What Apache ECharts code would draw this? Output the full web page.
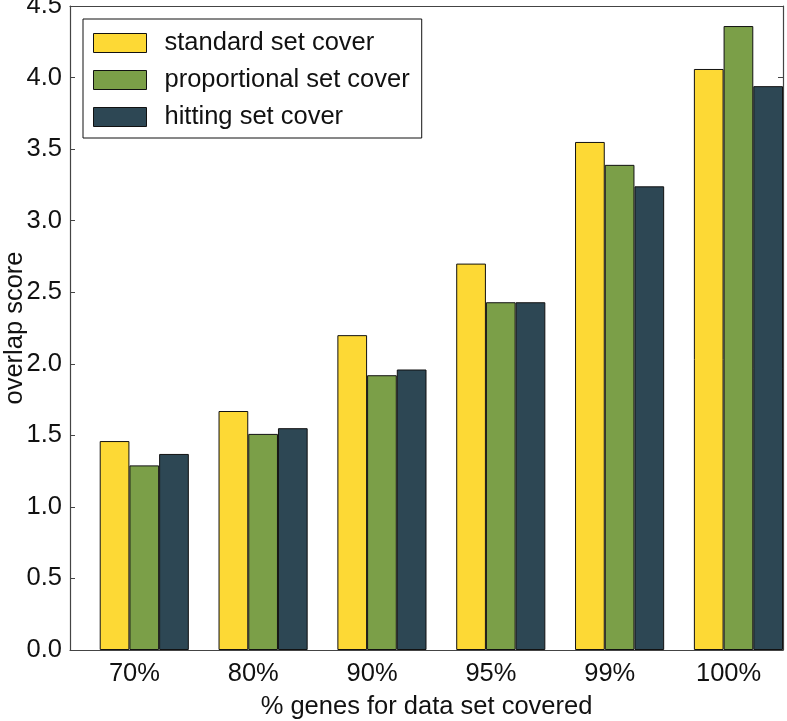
<!DOCTYPE html>
<html>
<head>
<meta charset="utf-8">
<script src="https://cdn.jsdelivr.net/npm/echarts@6/dist/echarts.min.js"></script>
<style>html,body{margin:0;padding:0;background:#fff}#c{width:787px;height:721px}</style>
</head>
<body>
<div id="c"></div>
<script>
var categories = ['70%', '80%', '90%', '95%', '99%', '100%'];
var seriesNames = ['standard set cover', 'proportional set cover', 'hitting set cover'];
var standardSetCover = [1.46, 1.67, 2.20, 2.70, 3.55, 4.06];
var proportionalSetCover = [1.29, 1.51, 1.92, 2.43, 3.39, 4.36];
var hittingSetCover = [1.37, 1.55, 1.96, 2.43, 3.24, 3.94];
var yTicks = { min: 0, max: 4.5, interval: 0.5 };
var colors = ['#FDD935', '#7B9F48', '#2D4754'];

var font = 'Liberation Sans, Arial, Helvetica, sans-serif';
var fs = 25.5;
var chart = echarts.init(document.getElementById('c'));
var values = [standardSetCover, proportionalSetCover, hittingSetCover];
var series = [{
  name: 'spacer', type: 'bar', data: [], silent: true,
  itemStyle: { color: 'transparent' }, barGap: '0%', barCategoryGap: '0%'
}];
for (var i = 0; i < 3; i++) {
  series.push({
    name: seriesNames[i], type: 'bar', data: values[i],
    barGap: '0%', barCategoryGap: '0%',
    itemStyle: { color: colors[i], borderColor: '#111', borderWidth: 1 }
  });
}
var axisLineStyle = { color: '#444', width: 1.2 };
chart.setOption({
  animation: false,
  backgroundColor: '#fff',
  textStyle: { fontFamily: font },
  grid: { left: 70, right: 4, top: 6, bottom: 71, containLabel: false, outerBoundsMode: 'none' },
  legend: {
    data: seriesNames, orient: 'vertical', left: 83, top: 19,
    padding: [11, 12, 8, 10], itemGap: 11, itemWidth: 53, itemHeight: 19,
    borderColor: '#111', borderWidth: 1, backgroundColor: '#fff',
    icon: 'rect',
    itemStyle: { borderColor: '#111', borderWidth: 1 },
    textStyle: { fontSize: fs, color: '#111', fontFamily: font, padding: [0, 0, 0, 13] }
  },
  xAxis: [{
    type: 'category', data: categories, position: 'bottom',
    name: '% genes for data set covered', nameLocation: 'middle', nameGap: 44, nameMoveOverlap: false,
    nameTextStyle: { fontSize: fs, color: '#111', fontFamily: font },
    axisLine: { onZero: false, lineStyle: axisLineStyle },
    axisTick: { inside: true, alignWithLabel: true, length: 5, lineStyle: { color: '#444' } },
    axisLabel: { fontSize: fs, color: '#111', margin: 11, padding: [0, 0, 0, 10], fontFamily: font },
    splitLine: { show: false }
  }, {
    type: 'category', data: categories, position: 'top',
    axisLine: { onZero: false, lineStyle: axisLineStyle },
    axisTick: { inside: true, alignWithLabel: true, length: 5, lineStyle: { color: '#444' } },
    axisLabel: { show: false }, splitLine: { show: false }
  }],
  yAxis: [{
    type: 'value', min: yTicks.min, max: yTicks.max, interval: yTicks.interval, position: 'left',
    name: 'overlap score', nameLocation: 'middle', nameGap: 42, nameRotate: 90, nameMoveOverlap: false,
    nameTextStyle: { fontSize: fs, color: '#111', fontFamily: font },
    axisLine: { show: true, onZero: false, lineStyle: axisLineStyle },
    axisTick: { show: true, inside: true, length: 5, lineStyle: { color: '#444' } },
    axisLabel: { fontSize: fs, color: '#111', margin: 8, fontFamily: font,
      formatter: function (v) { return v.toFixed(1); } },
    splitLine: { show: false }
  }, {
    type: 'value', min: yTicks.min, max: yTicks.max, interval: yTicks.interval, position: 'right',
    axisLine: { show: true, onZero: false, lineStyle: axisLineStyle },
    axisTick: { show: true, inside: true, length: 5, lineStyle: { color: '#444' } },
    axisLabel: { show: false }, splitLine: { show: false }
  }],
  series: series
});
</script>
</body>
</html>
